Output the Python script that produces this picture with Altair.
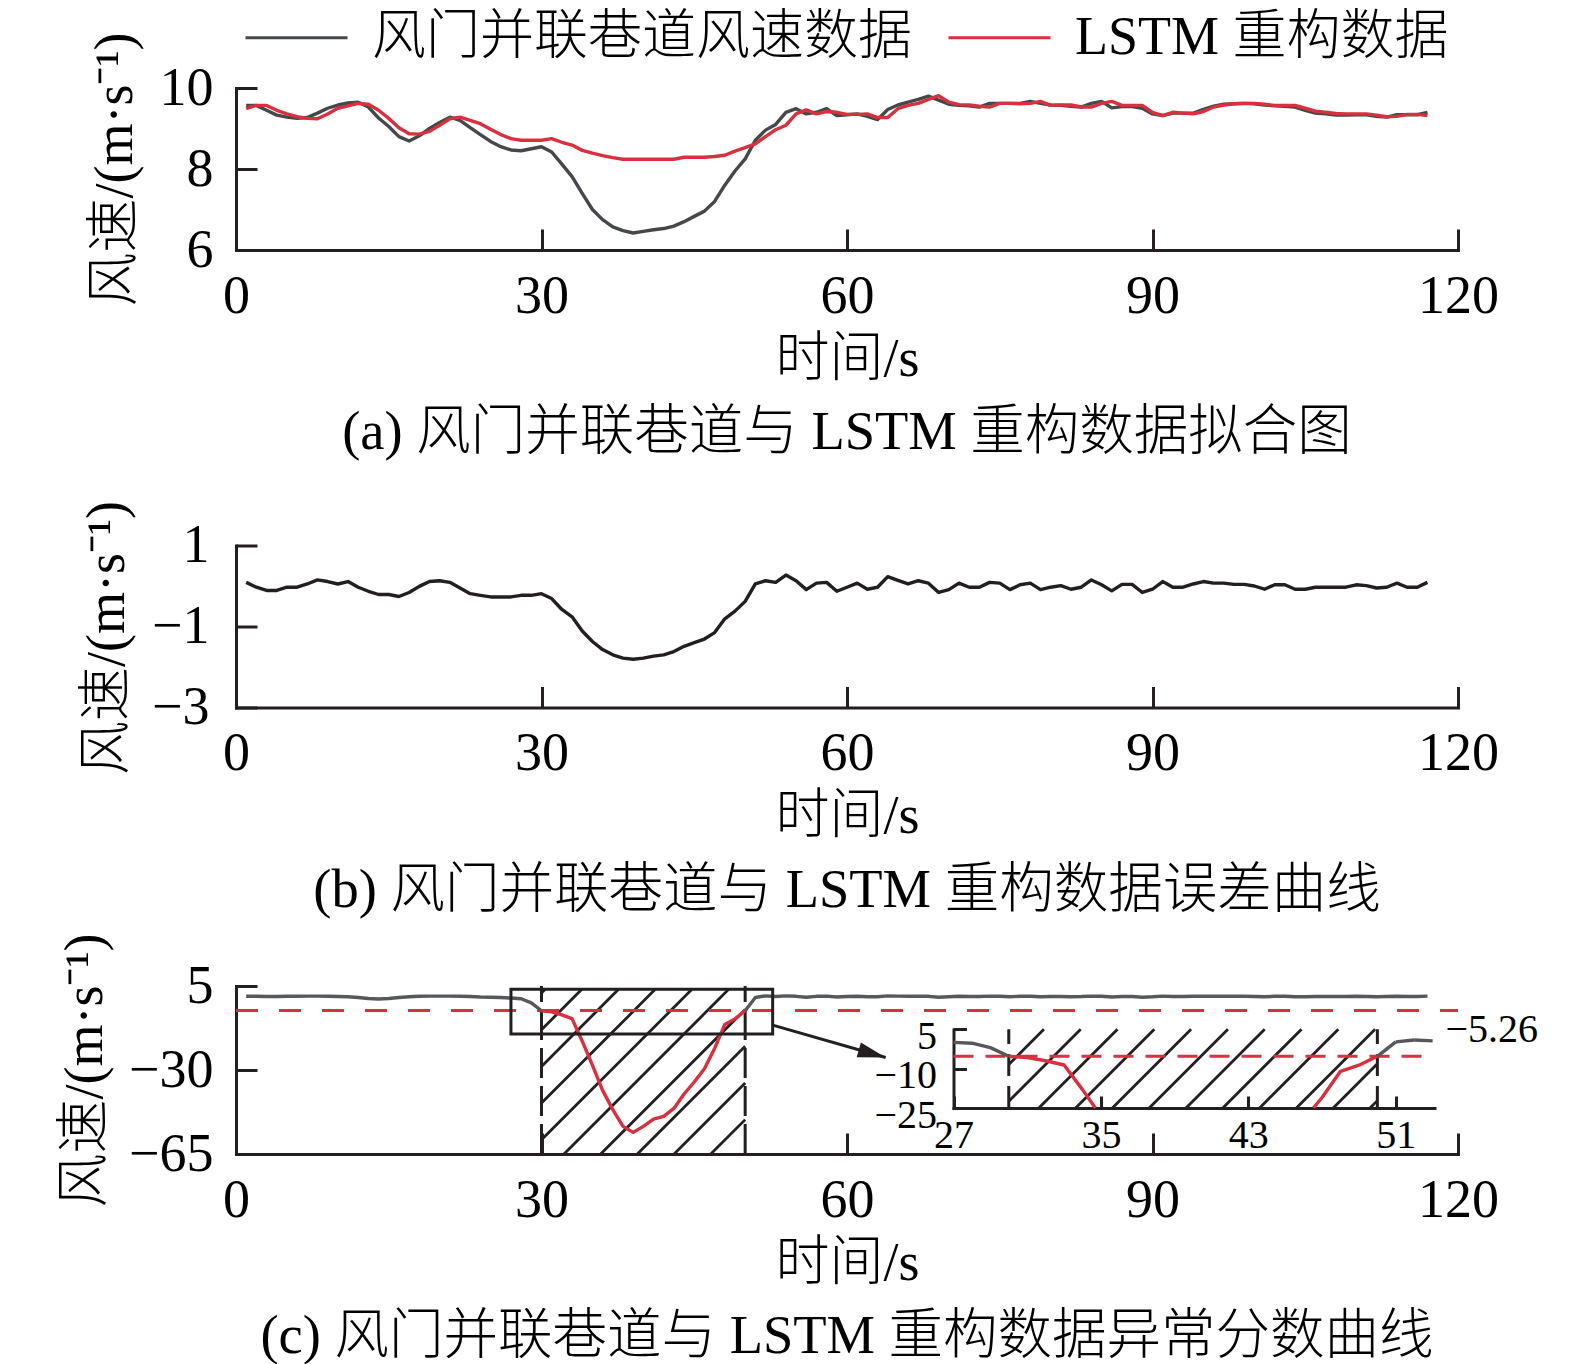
import math
import altair as alt
import pandas as pd

FONT = "'Liberation Serif', 'Noto Sans CJK SC', serif"
BLACK = "#231f20"
GRAY_A = "#46474a"
GRAY_C = "#56585b"
RED = "#d8303e"
TXT_W = 300
LW = 3.4

# ---------------- data ----------------
T = list(range(1, 118))

measured = [9.57, 9.57, 9.45, 9.33, 9.28, 9.25, 9.27, 9.38, 9.50, 9.58,
            9.63, 9.65, 9.53, 9.26, 9.05, 8.80, 8.69, 8.82, 9.00, 9.15,
            9.28, 9.20, 9.02, 8.85, 8.68, 8.55, 8.47, 8.45, 8.50, 8.55,
            8.42, 8.12, 7.81, 7.40, 7.00, 6.75, 6.57, 6.48, 6.42, 6.46,
            6.50, 6.53, 6.59, 6.70, 6.83, 6.96, 7.20, 7.60, 7.95, 8.25,
            8.71, 8.96, 9.10, 9.40, 9.49, 9.36, 9.40, 9.49, 9.32, 9.34,
            9.36, 9.30, 9.22, 9.47, 9.58, 9.65, 9.72, 9.80, 9.70, 9.60,
            9.57, 9.56, 9.53, 9.62, 9.62, 9.62, 9.62, 9.67, 9.62, 9.58,
            9.57, 9.55, 9.53, 9.62, 9.67, 9.51, 9.54, 9.54, 9.50, 9.36,
            9.32, 9.38, 9.38, 9.38, 9.47, 9.55, 9.60, 9.61, 9.62, 9.61,
            9.58, 9.56, 9.55, 9.53, 9.45, 9.38, 9.36, 9.33, 9.33, 9.34,
            9.34, 9.30, 9.28, 9.34, 9.34, 9.34, 9.40]

reconstructed = [9.49, 9.57, 9.57, 9.45, 9.36, 9.29, 9.25, 9.24, 9.36, 9.50,
                 9.56, 9.62, 9.60, 9.45, 9.25, 9.02, 8.87, 8.86, 8.93, 9.08,
                 9.24, 9.28, 9.20, 9.12, 8.98, 8.85, 8.75, 8.71, 8.71, 8.71,
                 8.75, 8.66, 8.59, 8.46, 8.39, 8.33, 8.28, 8.24, 8.24, 8.24,
                 8.24, 8.24, 8.24, 8.29, 8.29, 8.29, 8.31, 8.34, 8.44, 8.53,
                 8.62, 8.80, 8.97, 9.08, 9.36, 9.46, 9.36, 9.42, 9.40, 9.35,
                 9.35, 9.36, 9.27, 9.27, 9.49, 9.57, 9.62, 9.72, 9.81, 9.65,
                 9.59, 9.58, 9.55, 9.53, 9.62, 9.62, 9.61, 9.62, 9.67, 9.57,
                 9.58, 9.58, 9.53, 9.53, 9.62, 9.67, 9.57, 9.57, 9.57, 9.40,
                 9.32, 9.40, 9.38, 9.36, 9.42, 9.53, 9.58, 9.61, 9.62, 9.62,
                 9.60, 9.57, 9.57, 9.57, 9.50, 9.43, 9.40, 9.37, 9.36, 9.36,
                 9.36, 9.33, 9.29, 9.30, 9.35, 9.35, 9.32]

error = [0.09, -0.03, -0.11, -0.11, -0.03, -0.03, 0.05, 0.15, 0.11, 0.05,
         0.11, -0.03, -0.13, -0.21, -0.21, -0.26, -0.16, -0.01, 0.11, 0.13,
         0.09, -0.05, -0.19, -0.23, -0.27, -0.27, -0.27, -0.23, -0.23, -0.19,
         -0.31, -0.58, -0.76, -1.11, -1.37, -1.57, -1.70, -1.78, -1.81, -1.78,
         -1.73, -1.70, -1.62, -1.49, -1.40, -1.31, -1.15, -0.81, -0.62, -0.38,
         0.05, 0.13, 0.09, 0.27, 0.13, -0.09, 0.07, 0.09, -0.13, -0.03,
         0.07, -0.08, -0.03, 0.23, 0.14, 0.05, 0.13, 0.07, -0.16, -0.09,
         0.07, -0.03, -0.03, 0.09, 0.07, -0.09, 0.03, 0.07, -0.09, -0.03,
         0.01, -0.08, -0.03, 0.15, 0.03, -0.12, 0.04, 0.04, -0.16, -0.08,
         0.11, -0.03, -0.03, 0.05, 0.11, 0.07, 0.07, 0.04, 0.04, 0.00,
         -0.08, 0.03, 0.03, -0.08, -0.08, -0.03, -0.03, -0.03, -0.03, 0.03,
         0.01, -0.05, -0.03, 0.07, -0.03, -0.03, 0.09]

score = [0.7, 0.7, 0.6, 0.6, 0.7, 0.7, 0.8, 0.8, 0.7, 0.6,
         0.5, 0.2, -0.2, -0.4, -0.2, 0.2, 0.5, 0.7, 0.8, 0.8,
         0.8, 0.7, 0.6, 0.4, 0.3, 0.2, 0.0, -0.3, -2.0, -5.3,
         -5.8, -7.0, -8.6, -18.0, -28.0, -38.5, -46.5, -53.5, -56.0, -53.5,
         -50.5, -49.3, -46.0, -40.0, -35.0, -29.5, -21.0, -11.0, -8.7, -5.3,
         0.2, 0.9, 0.6, 0.9, 0.7, 0.3, 0.7, 0.8, 0.4, 0.6,
         0.7, 0.5, 0.5, 0.9, 0.8, 0.7, 0.8, 0.7, 0.3, 0.5,
         0.7, 0.6, 0.6, 0.8, 0.7, 0.5, 0.7, 0.7, 0.5, 0.6,
         0.6, 0.5, 0.6, 0.8, 0.7, 0.4, 0.6, 0.6, 0.3, 0.5,
         0.8, 0.6, 0.6, 0.7, 0.8, 0.7, 0.7, 0.7, 0.7, 0.6,
         0.5, 0.7, 0.7, 0.5, 0.5, 0.6, 0.6, 0.6, 0.6, 0.7,
         0.6, 0.5, 0.6, 0.7, 0.6, 0.6, 0.8]

threshold = -5.26
anomaly_span = [30, 50]
zoom_box_t = [27, 52.7]
zoom_box_v = [-15, 3.6]
arrow_from = [52.7, -11.3]
arrow_to = [63.8, -24.8]

LEG1 = "风门并联巷道风速数据"
LEG2 = "LSTM 重构数据"
YTITLE = "风速/(m·s⁻¹)"
XTITLE = "时间/s"
CAP_A = "(a) 风门并联巷道与 LSTM 重构数据拟合图"
CAP_B = "(b) 风门并联巷道与 LSTM 重构数据误差曲线"
CAP_C = "(c) 风门并联巷道与 LSTM 重构数据异常分数曲线"

X_TICKS = [0, 30, 60, 90, 120]
A_TICKS = [6, 8, 10]
B_TICKS = [-3, -1, 1]
C_TICKS = [-65, -30, 5]
IN_X_TICKS = [27, 35, 43, 51]
IN_Y_TICKS = [-25, -10, 5]

X_DOM = [0, 120]
A_DOM = [6, 10]
B_DOM = [-3, 1]
C_DOM = [-65, 5]
IN_X_DOM = [27, 53.1]
IN_Y_DOM = [-25, 5]

# ---------------- layout ----------------
W = 1222
HA, HB, HC = 162, 179, 168
B_TOP = 17
IN_X_RANGE = [717.5, 1198.5]
IN_Y_RANGE = [122, 43.3]
TICK = 21
FS = 54


def scale(domain, rng=None):
    kw = dict(domain=domain, nice=False, zero=False)
    if rng is not None:
        kw["range"] = rng
    return alt.Scale(**kw)


def lab_axis(values, orient, fs=FS, pad=19, title="", offset=0, label_offset=0, **tkw):
    return alt.Axis(values=values, orient=orient, offset=offset, domain=True, domainColor=BLACK,
                    domainWidth=3, domainCap="square", ticks=False, tickSize=0, labels=True,
                    labelFont=FONT, labelFontSize=fs, labelColor="#000", labelPadding=pad,
                    labelOffset=label_offset, labelFlush=False, labelOverlap=False, grid=False,
                    title=title, titleFont=FONT, titleFontWeight=TXT_W, titleColor="#000", **tkw)


def x_main_axis():
    return lab_axis(X_TICKS, "bottom", title=XTITLE, titleFontSize=FS, titleY=109,
                    titleBaseline="middle")


def y_main_axis(values, pad, tx, ty):
    return lab_axis(values, "left", pad=pad, title=YTITLE, titleFontSize=FS, titleAngle=270,
                    titleX=tx, titleY=ty, titleAlign="center", titleBaseline="middle")


def tick_axis(values, orient, size, offset):
    return alt.Axis(values=values, orient=orient, offset=offset, domain=False, labels=False,
                    ticks=True, tickSize=size, tickWidth=3, tickColor=BLACK, grid=False, title="")


def cap(text):
    return alt.TitleParams(text=text, orient="bottom", anchor="middle", font=FONT, fontSize=54.5,
                           fontWeight=TXT_W, color="#000", offset=20)


# ---------------- panel (a) ----------------
dfa = pd.DataFrame({"t": T * 2, "v": measured + reconstructed,
                    "s": [LEG1] * len(T) + [LEG2] * len(T)})
sxa, sya = scale(X_DOM), scale(A_DOM)
a_lines = alt.Chart(dfa).mark_line(strokeWidth=LW, strokeJoin="round").encode(
    x=alt.X("t:Q", scale=sxa, axis=x_main_axis()),
    y=alt.Y("v:Q", scale=sya, axis=y_main_axis(A_TICKS, 23, -121, 81)),
    color=alt.Color("s:N", scale=alt.Scale(domain=[LEG1, LEG2], range=[GRAY_A, RED]),
                    legend=alt.Legend(title=None, orient="none", legendX=8, legendY=-103,
                                      direction="horizontal", columns=2, symbolType="stroke",
                                      symbolSize=10404, symbolStrokeWidth=3, labelFont=FONT,
                                      labelFontSize=54, labelFontWeight=TXT_W, labelColor="#000",
                                      labelLimit=1000, labelOffset=23, columnPadding=30,
                                      padding=0)),
)
a_ticks = alt.Chart(dfa).mark_line(opacity=0).encode(
    x=alt.X("t:Q", scale=sxa, axis=tick_axis(X_TICKS, "bottom", TICK, -TICK)),
    y=alt.Y("v:Q", scale=sya, axis=tick_axis(A_TICKS, "left", TICK, -TICK)),
    detail="s:N",
)
panel_a = alt.layer(a_lines, a_ticks).resolve_axis(x="independent", y="independent").properties(
    width=W, height=HA, title=cap(CAP_A))

# ---------------- panel (b) ----------------
dfb = pd.DataFrame({"t": T, "v": error})
sxb, syb = scale(X_DOM), scale(B_DOM, [HB, B_TOP])
b_line = alt.Chart(dfb).mark_line(strokeWidth=LW, color=BLACK, strokeJoin="round").encode(
    x=alt.X("t:Q", scale=sxb, axis=x_main_axis()),
    y=alt.Y("v:Q", scale=syb, axis=y_main_axis(B_TICKS, 27, -129, 109)),
)
b_ticks = alt.Chart(dfb).mark_line(opacity=0).encode(
    x=alt.X("t:Q", scale=sxb, axis=tick_axis(X_TICKS, "bottom", TICK, -TICK)),
    y=alt.Y("v:Q", scale=syb, axis=tick_axis(B_TICKS, "left", TICK, -TICK)),
)
panel_b = alt.layer(b_line, b_ticks).resolve_axis(x="independent", y="independent").properties(
    width=W, height=HB, title=cap(CAP_B))

# ---------------- panel (c) ----------------
a0, a1 = anomaly_span
rows = []
for t, v in zip(T, score):
    if t <= a0:
        rows.append({"t": t, "v": v, "part": "pre"})
    if a0 <= t <= a1:
        rows.append({"t": t, "v": v, "part": "ano"})
    if t >= a1:
        rows.append({"t": t, "v": v, "part": "post"})
dfc = pd.DataFrame(rows)
dfc_norm = dfc[dfc.part != "ano"]
dfc_ano = dfc[dfc.part == "ano"]


def clip_segments(ts, vs, lo, hi):
    segs, cur = [], []
    for i in range(len(ts) - 1):
        t0, v0, t1, v1 = ts[i], vs[i], ts[i + 1], vs[i + 1]
        a, b, dv, ok = 0.0, 1.0, v1 - v0, True
        for p, q in ((-dv, v0 - lo), (dv, hi - v0)):
            if p == 0:
                if q < 0:
                    ok = False
            else:
                r = q / p
                if p < 0:
                    a = max(a, r)
                else:
                    b = min(b, r)
        if not ok or a > b:
            if cur:
                segs.append(cur)
                cur = []
            continue
        pa = (t0 + a * (t1 - t0), v0 + a * dv)
        pb = (t0 + b * (t1 - t0), v0 + b * dv)
        if not cur:
            cur = [pa]
        elif cur[-1] != pa:
            segs.append(cur)
            cur = [pa]
        cur.append(pb)
        if b < 1:
            segs.append(cur)
            cur = []
    if cur:
        segs.append(cur)
    return segs


inset_rows = []
seg_id = 0
for part in ["pre", "ano", "post"]:
    sub = dfc[(dfc.part == part) & (dfc.t >= IN_X_DOM[0]) & (dfc.t <= IN_X_DOM[1])]
    for seg in clip_segments(list(sub.t), list(sub.v), IN_Y_DOM[0], IN_Y_DOM[1]):
        for (t, v) in seg:
            inset_rows.append({"t": t, "v": v, "part": part, "seg": seg_id})
        seg_id += 1
dfi = pd.DataFrame(inset_rows)
dfi_norm = dfi[dfi.part != "ano"]
dfi_ano = dfi[dfi.part == "ano"]


def hatch(t_lo, t_hi, v_lo, v_hi, xdom, xrng, ydom, yrng, spacing, phase):
    fx = lambda t: xrng[0] + (t - xdom[0]) * (xrng[1] - xrng[0]) / (xdom[1] - xdom[0])
    fy = lambda v: yrng[0] + (v - ydom[0]) * (yrng[1] - yrng[0]) / (ydom[1] - ydom[0])
    gx = lambda x: xdom[0] + (x - xrng[0]) * (xdom[1] - xdom[0]) / (xrng[1] - xrng[0])
    gy = lambda y: ydom[0] + (y - yrng[0]) * (ydom[1] - ydom[0]) / (yrng[1] - yrng[0])
    X0, X1 = fx(t_lo), fx(t_hi)
    Yt, Yb = fy(v_hi), fy(v_lo)
    cmin, cmax = X0 + Yt, X1 + Yb
    c = phase + math.ceil((cmin - phase) / spacing) * spacing
    out = []
    while c < cmax:
        xa, xb = max(X0, c - Yb), min(X1, c - Yt)
        if xb - xa > 0.5:
            out.append({"t": gx(xa), "v": gy(c - xa), "t2": gx(xb), "v2": gy(c - xb)})
        c += spacing
    return pd.DataFrame(out)


hatch_main = hatch(a0, a1, C_DOM[0], zoom_box_v[1], X_DOM, [0, W], C_DOM, [HC, 0], 36.7, 349.2)
hatch_in = hatch(a0, a1, IN_Y_DOM[0], IN_Y_DOM[1], IN_X_DOM, IN_X_RANGE, IN_Y_DOM, IN_Y_RANGE,
                 36.8, 851.2)

sxc, syc = scale(X_DOM), scale(C_DOM)
sxi, syi = scale(IN_X_DOM, IN_X_RANGE), scale(IN_Y_DOM, IN_Y_RANGE)


def xm(field="t"):
    return alt.X(f"{field}:Q", scale=sxc, axis=None)


def ym(field="v"):
    return alt.Y(f"{field}:Q", scale=syc, axis=None)


def xi(field="t"):
    return alt.X(f"{field}:Q", scale=sxi, axis=None)


def yi(field="v"):
    return alt.Y(f"{field}:Q", scale=syi, axis=None)


c_hatch = alt.Chart(hatch_main).mark_rule(strokeWidth=2.8, color=BLACK).encode(
    x=xm(), y=ym(), x2="t2:Q", y2="v2:Q")
c_vdash = alt.Chart(pd.DataFrame({"t": anomaly_span, "lo": [C_DOM[0]] * 2, "hi": [C_DOM[1]] * 2})
                    ).mark_rule(strokeWidth=3, color=BLACK, strokeDash=[30, 8]).encode(
    x=xm(), y=ym("lo"), y2="hi:Q")
c_thr = alt.Chart(pd.DataFrame({"t0": [X_DOM[0]], "t1": [X_DOM[1]], "v": [threshold]})
                  ).mark_rule(strokeWidth=3, color=RED, strokeDash=[22, 21]).encode(
    x=xm("t0"), x2="t1:Q", y=ym())
c_gray = alt.Chart(dfc_norm).mark_line(strokeWidth=LW, color=GRAY_C, strokeJoin="round").encode(
    x=alt.X("t:Q", scale=sxc, axis=x_main_axis()),
    y=alt.Y("v:Q", scale=syc, axis=y_main_axis(C_TICKS, 23, -151, 84)),
    detail="part:N")
c_ticks = alt.Chart(dfc_norm).mark_line(opacity=0).encode(
    x=alt.X("t:Q", scale=sxc, axis=tick_axis(X_TICKS, "bottom", TICK, -TICK)),
    y=alt.Y("v:Q", scale=syc, axis=tick_axis(C_TICKS, "left", TICK, -TICK)),
    detail="part:N")
c_red = alt.Chart(dfc_ano).mark_line(strokeWidth=LW, color=RED, strokeJoin="round").encode(
    x=xm(), y=ym())
c_rect = alt.Chart(pd.DataFrame({"t0": [zoom_box_t[0]], "t1": [zoom_box_t[1]],
                                 "v0": [zoom_box_v[0]], "v1": [zoom_box_v[1]]})
                   ).mark_rect(fillOpacity=0, stroke=BLACK, strokeWidth=3).encode(
    x=xm("t0"), x2="t1:Q", y=ym("v0"), y2="v1:Q")
c_shaft = alt.Chart(pd.DataFrame({"t0": [arrow_from[0]], "v0": [arrow_from[1]],
                                  "t1": [arrow_to[0]], "v1": [arrow_to[1]]})
                    ).mark_rule(strokeWidth=3, color=BLACK).encode(
    x=xm("t0"), y=ym("v0"), x2="t1:Q", y2="v1:Q")
dx_px = (arrow_to[0] - arrow_from[0]) * W / (X_DOM[1] - X_DOM[0])
dy_px = (arrow_from[1] - arrow_to[1]) * HC / (C_DOM[1] - C_DOM[0])
arrow_angle = math.degrees(math.atan2(dy_px, dx_px))
c_head = alt.Chart(pd.DataFrame({"t": [arrow_to[0]], "v": [arrow_to[1]]})).mark_point(
    shape="M0,0L-2,-0.55L-2,0.55Z", size=784, angle=arrow_angle, filled=True, color=BLACK,
    opacity=1, strokeWidth=0).encode(x=xm(), y=ym())

# inset
i_hatch = alt.Chart(hatch_in).mark_rule(strokeWidth=2.8, color=BLACK).encode(
    x=xi(), y=yi(), x2="t2:Q", y2="v2:Q")
i_vdash = alt.Chart(pd.DataFrame({"t": anomaly_span, "lo": [IN_Y_DOM[0]] * 2,
                                  "hi": [IN_Y_DOM[1]] * 2})
                    ).mark_rule(strokeWidth=3, color=BLACK, strokeDash=[22, 10]).encode(
    x=xi(), y=yi("lo"), y2="hi:Q")
i_thr = alt.Chart(pd.DataFrame({"t0": [IN_X_DOM[0]], "t1": [52.4], "v": [threshold]})
                  ).mark_rule(strokeWidth=3, color=RED, strokeDash=[20, 12]).encode(
    x=xi("t0"), x2="t1:Q", y=yi())
i_gray = alt.Chart(dfi_norm).mark_line(strokeWidth=LW, color=GRAY_C, strokeJoin="round").encode(
    x=alt.X("t:Q", scale=sxi,
            axis=lab_axis(IN_X_TICKS, "bottom", fs=40, pad=7, offset=IN_Y_RANGE[0] - HC)),
    y=alt.Y("v:Q", scale=syi,
            axis=lab_axis(IN_Y_TICKS, "left", fs=40, pad=17, offset=-IN_X_RANGE[0],
                          label_offset=7)),
    detail="seg:N")
i_ticks = alt.Chart(dfi_norm).mark_line(opacity=0).encode(
    x=alt.X("t:Q", scale=sxi, axis=tick_axis(IN_X_TICKS, "bottom", 12, IN_Y_RANGE[0] - HC - 12)),
    y=alt.Y("v:Q", scale=syi, axis=tick_axis(IN_Y_TICKS, "left", 13, -IN_X_RANGE[0] - 13)),
    detail="seg:N")
i_red = alt.Chart(dfi_ano).mark_line(strokeWidth=LW, color=RED, strokeJoin="round").encode(
    x=xi(), y=yi(), detail="seg:N")
i_label = alt.Chart(pd.DataFrame({"t": [IN_X_DOM[1]], "v": [IN_Y_DOM[1]],
                                  "label": ["\u2212" + f"{abs(threshold):.2f}"]})
                    ).mark_text(align="left", baseline="middle", dx=11, dy=1, font=FONT,
                                fontSize=40, color="#000").encode(x=xi(), y=yi(), text="label:N")

panel_c = alt.layer(
    c_hatch, c_vdash, c_thr, c_gray, c_ticks, c_red, c_rect, c_shaft, c_head,
    i_hatch, i_vdash, i_thr, i_gray, i_ticks, i_red, i_label,
).resolve_scale(x="independent", y="independent").resolve_axis(
    x="independent", y="independent").properties(width=W, height=HC, title=cap(CAP_C))

chart = alt.vconcat(panel_a, panel_b, panel_c, spacing=278.5, bounds="flush").properties(
    padding={"left": 49, "top": -23, "right": 10, "bottom": 5}
).configure_view(strokeWidth=0)

chart.save("out.html", embed_options={"renderer": "svg", "actions": False})
